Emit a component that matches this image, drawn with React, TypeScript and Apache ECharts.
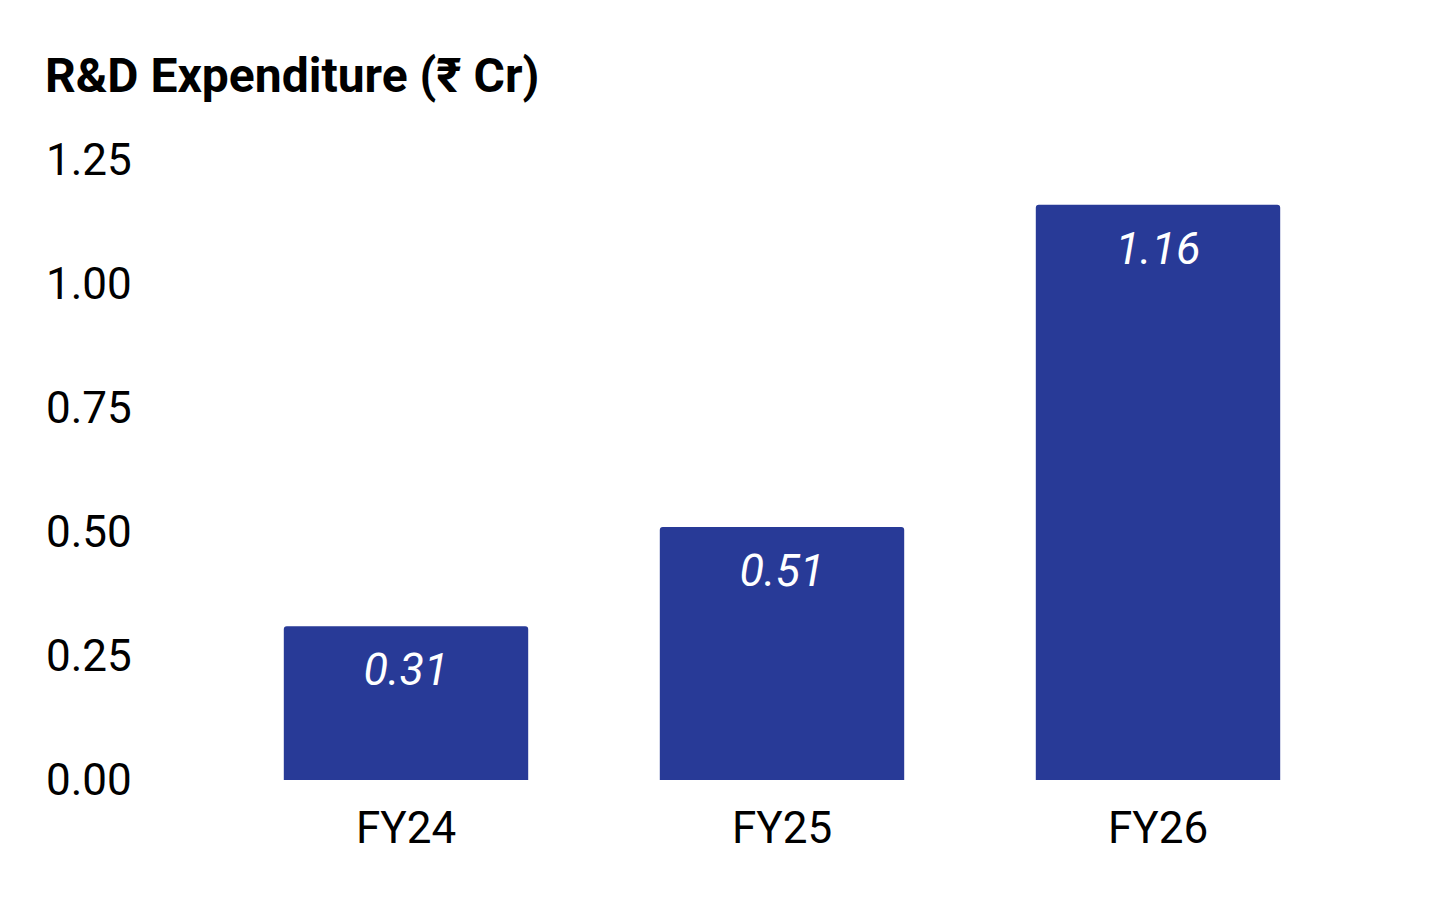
import React, { useEffect, useRef } from "react";
import * as echarts from "echarts";

const categories = ["FY24", "FY25", "FY26"];
const values = [0.31, 0.51, 1.16];
const yTicks = [0, 0.25, 0.5, 0.75, 1.0, 1.25];
const title = "R&D Expenditure (₹ Cr)";

export default function App() {
  const ref = useRef<HTMLDivElement>(null);
  useEffect(() => {
    if (!ref.current) return;
    const chart = echarts.init(ref.current, undefined, { renderer: "svg" });
    chart.setOption({
      animation: false,
      backgroundColor: "#ffffff",
      textStyle: { fontFamily: "Roboto" },
      title: {
        text: title,
        left: 40,
        top: 46,
        textStyle: { fontFamily: "Roboto", fontWeight: "bold", fontSize: 48, color: "#000" },
      },
      grid: { left: 218, right: 110, top: 160, bottom: 120, containLabel: false },
      xAxis: {
        type: "category",
        data: categories,
        axisLine: { show: false },
        axisTick: { show: false },
        axisLabel: { fontSize: 44, color: "#000", margin: 26, fontFamily: "Roboto" },
      },
      yAxis: {
        type: "value",
        min: yTicks[0],
        max: yTicks[yTicks.length - 1],
        interval: 0.25,
        splitLine: { show: false },
        axisLine: { show: false },
        axisTick: { show: false },
        axisLabel: {
          fontSize: 44,
          color: "#000",
          align: "left",
          margin: 172,
          fontFamily: "Roboto",
          formatter: (v: number) => v.toFixed(2),
        },
      },
      series: [
        {
          type: "bar",
          data: values,
          barWidth: "65%",
          itemStyle: { color: "#283A97", borderRadius: [3, 3, 0, 0] },
          label: {
            show: true,
            position: "insideTop",
            distance: 21,
            color: "#fff",
            fontSize: 45,
            fontStyle: "italic",
            fontFamily: "Roboto",
            formatter: (p: any) => p.value.toFixed(2),
          },
        },
      ],
    });
    return () => chart.dispose();
  }, []);
  return (
    <div
      ref={ref}
      style={{ position: "absolute", left: 0, top: 0, width: 1456, height: 900 }}
    />
  );
}
